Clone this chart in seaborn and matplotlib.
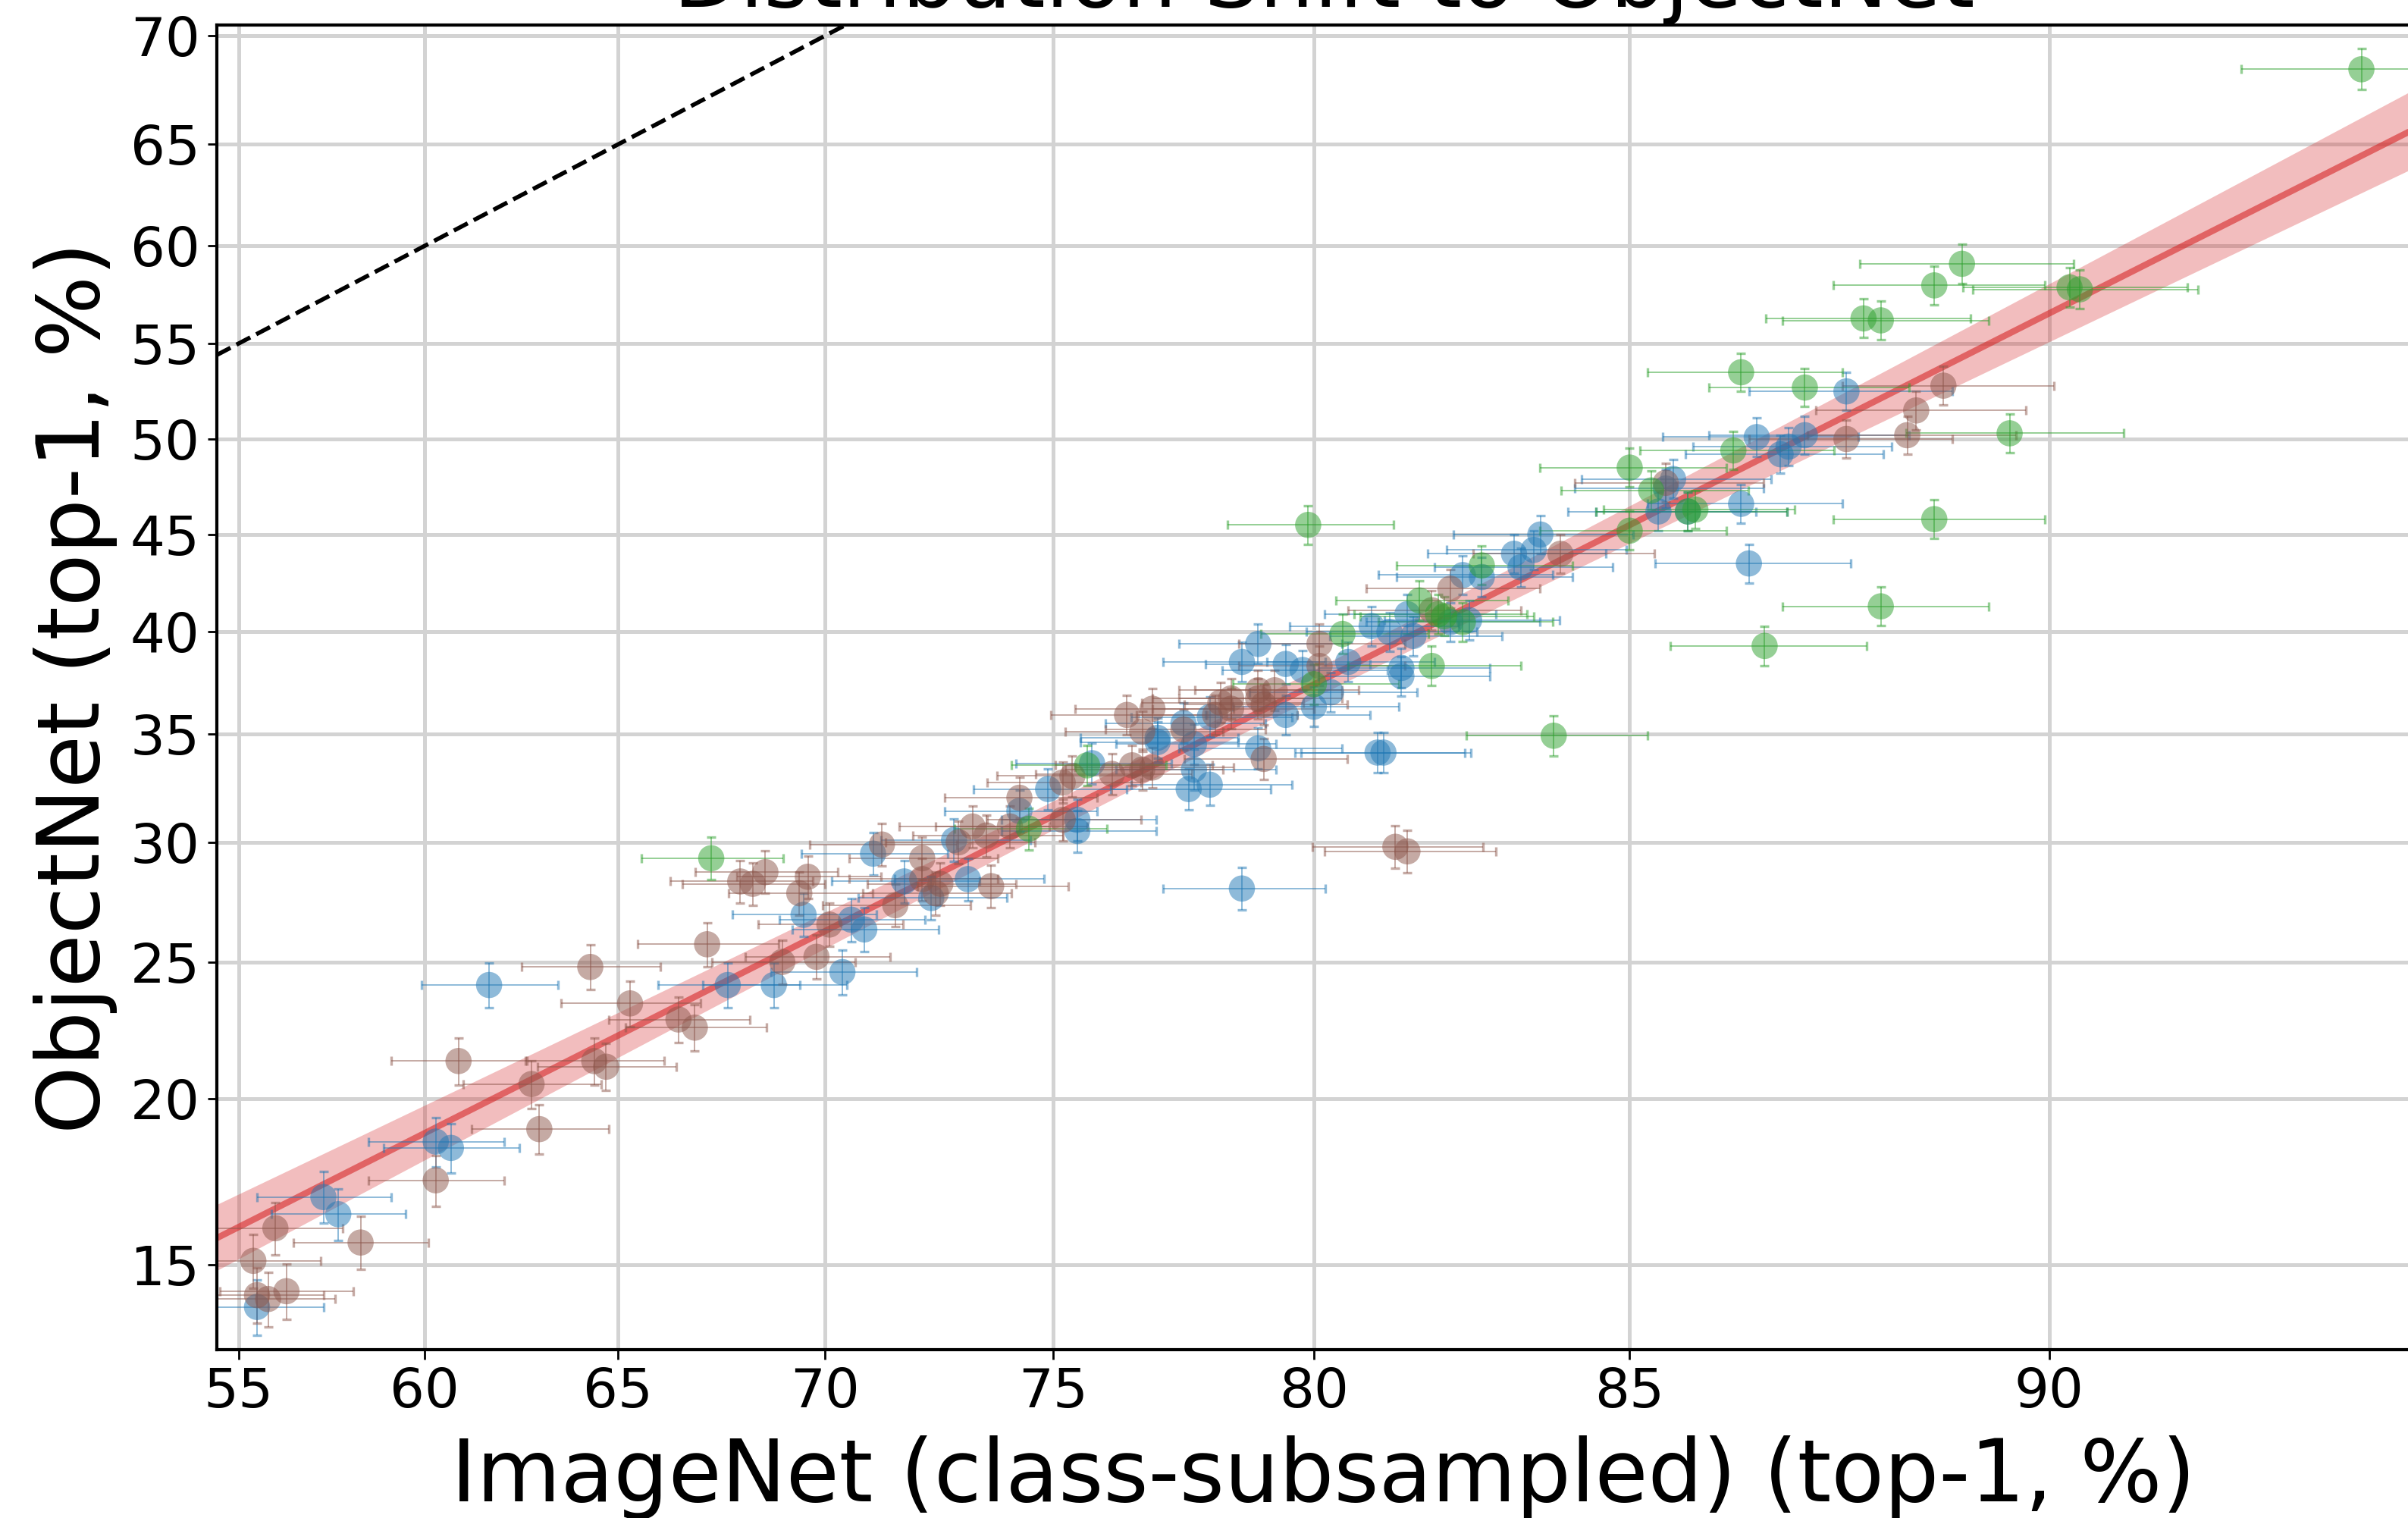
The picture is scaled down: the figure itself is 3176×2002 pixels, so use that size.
import numpy as np
import pandas as pd
import matplotlib
matplotlib.use("Agg")
import matplotlib.pyplot as plt
import seaborn as sns
from matplotlib.ticker import FixedLocator, FixedFormatter, NullLocator

# ImageNet (class-subsampled) vs ObjectNet top-1 accuracy, in percent
blue_x = [87.8, 86.7, 87.3, 87.0, 87.1, 86.5, 86.6, 85.6, 85.5, 85.4, 85.8, 83.7, 83.3, 83.6,
          83.4, 82.5, 82.8, 81.6, 81.3, 81.0, 82.3, 82.6, 81.7, 80.6, 81.5, 81.5, 80.3, 81.1,
          81.2, 79.0, 78.7, 79.5, 79.8, 80.0, 79.5, 79.0, 78.7, 77.8, 77.7, 78.1, 77.1, 77.1,
          77.6, 78.1, 77.8, 75.8, 74.9, 74.3, 75.5, 75.5, 72.9, 73.2, 71.8, 72.4, 71.1, 69.5,
          70.6, 70.9, 70.4, 67.7, 68.8, 61.7, 60.3, 60.7, 57.3, 57.7, 55.5]
blue_y = [52.5, 50.1, 50.2, 49.2, 49.6, 46.6, 43.5, 47.9, 47.4, 46.2, 46.2, 45.0, 44.0, 44.2,
          43.3, 42.9, 42.8, 40.9, 40.0, 40.3, 40.5, 40.6, 39.8, 38.5, 38.2, 37.8, 37.0, 34.1,
          34.1, 39.4, 38.5, 38.4, 38.1, 36.3, 35.9, 34.3, 28.0, 33.3, 32.4, 32.6, 34.8, 34.6,
          35.5, 35.8, 34.5, 33.6, 32.4, 31.4, 31.0, 30.5, 30.1, 28.4, 28.3, 27.6, 29.5, 26.9,
          26.7, 26.3, 24.6, 24.1, 24.1, 24.1, 18.6, 18.4, 16.9, 16.4, 13.9]

brown_x = [88.9, 88.6, 87.8, 88.5, 85.5, 84.0, 82.3, 82.0, 80.1, 80.1, 79.0, 79.3, 79.1, 79.0,
           78.5, 78.5, 78.3, 78.2, 77.6, 77.0, 76.5, 76.8, 79.1, 81.4, 81.6, 76.2, 76.6, 76.8,
           77.0, 75.2, 75.4, 75.2, 74.3, 74.1, 73.6, 73.3, 73.0, 72.6, 73.7, 71.3, 72.2, 72.2,
           72.5, 71.6, 70.1, 69.6, 69.4, 68.6, 68.0, 68.3, 67.2, 69.0, 69.8, 64.3, 65.3, 66.5,
           66.9, 60.9, 64.4, 64.7, 62.8, 63.0, 60.3, 56.0, 58.3, 55.4, 55.5, 55.8, 56.3]
brown_y = [52.8, 51.5, 50.0, 50.2, 47.7, 44.0, 42.2, 41.1, 39.4, 38.3, 37.1, 37.1, 36.4, 36.7,
           36.2, 36.7, 36.5, 35.9, 35.2, 36.2, 35.9, 35.1, 33.8, 29.8, 29.6, 33.1, 33.5, 33.3,
           33.4, 32.7, 33.0, 31.0, 32.0, 30.7, 30.3, 30.7, 30.0, 28.2, 28.1, 29.9, 29.3, 28.4,
           27.8, 27.3, 26.5, 28.5, 27.8, 28.7, 28.3, 28.2, 25.7, 25.0, 25.2, 24.8, 23.4, 22.8,
           22.5, 21.3, 21.3, 21.1, 20.5, 19.0, 17.4, 16.0, 15.6, 15.1, 14.2, 14.1, 14.3]

green_x = [92.7, 89.1, 88.8, 90.2, 90.3, 88.0, 88.2, 86.5, 87.3, 89.6, 86.4, 85.0, 85.3, 85.8,
           85.9, 85.0, 79.9, 88.8, 88.2, 86.8, 83.9, 82.8, 81.8, 82.1, 82.2, 82.5, 82.0, 80.5,
           80.0, 75.7, 74.5, 67.3]
green_y = [68.5, 59.1, 58.0, 57.9, 57.8, 56.3, 56.2, 53.5, 52.7, 50.3, 49.4, 48.5, 47.3, 46.2,
           46.3, 45.2, 45.5, 45.8, 41.3, 39.3, 34.9, 43.4, 41.6, 40.9, 40.8, 40.5, 38.3, 39.9,
           37.4, 33.5, 30.6, 29.3]

x_ticks = [55, 60, 65, 70, 75, 80, 85, 90]
y_ticks = [15, 20, 25, 30, 35, 40, 45, 50, 55, 60, 65, 70]

# test-set sizes used for the binomial confidence intervals
n_imagenet = 5650
n_objectnet = 18574
z_ci = 2.75

palette = {"blue": "#1f77b4", "brown": "#8c564b", "green": "#2ca02c"}

frames = []
for name, xs, ys in [("blue", blue_x, blue_y), ("brown", brown_x, brown_y),
                     ("green", green_x, green_y)]:
    frames.append(pd.DataFrame({"imagenet": xs, "objectnet": ys, "group": name}))
df = pd.concat(frames, ignore_index=True)


def binom_err(acc, n):
    p = np.asarray(acc) / 100.0
    return 100.0 * z_ci * np.sqrt(p * (1 - p) / n)


def logit_pct(v):
    v = np.clip(np.asarray(v, dtype=float), 1e-4, 100 - 1e-4)
    return np.log(v / (100.0 - v))


def expit_pct(t):
    return 100.0 / (1.0 + np.exp(-np.asarray(t, dtype=float)))


sns.set_style("whitegrid")
plt.rcParams.update({
    "font.family": ["DejaVu Sans"],
    "text.color": "black",
    "axes.labelcolor": "black",
    "axes.titlecolor": "black",
    "axes.edgecolor": "black",
    "axes.linewidth": 1.5,
    "grid.color": "#d3d3d3",
    "grid.linewidth": 1.8,
    "xtick.bottom": True,
    "ytick.left": True,
    "xtick.major.size": 4.5,
    "ytick.major.size": 4.5,
    "xtick.major.width": 1.0,
    "ytick.major.width": 1.0,
    "xtick.color": "black",
    "ytick.color": "black",
    "xtick.labelcolor": "black",
    "ytick.labelcolor": "black",
})

fig = plt.figure(figsize=(15.88, 10.01), dpi=200)
ax = fig.add_axes([0.0900, 0.1109, 0.9194, 0.8726])
ax.set_xscale("function", functions=(logit_pct, expit_pct))
ax.set_yscale("function", functions=(logit_pct, expit_pct))
ax.set_axisbelow(True)

# linear fit in logit space with a confidence band
lx = logit_pct(df["imagenet"].values)
ly = logit_pct(df["objectnet"].values)
slope, intercept = np.polyfit(lx, ly, 1)
resid = ly - (slope * lx + intercept)
s_res = np.sqrt(np.sum(resid ** 2) / (len(lx) - 2))
sxx = np.sum((lx - lx.mean()) ** 2)
grid_t = np.linspace(logit_pct(53.0), logit_pct(95.0), 300)
fit_t = slope * grid_t + intercept
half = 3.0 * s_res * np.sqrt(1.0 / len(lx) + (grid_t - lx.mean()) ** 2 / sxx)
ax.fill_between(expit_pct(grid_t), expit_pct(fit_t - half), expit_pct(fit_t + half),
                color="#d62728", alpha=0.3, linewidth=0, zorder=1)
ax.plot(expit_pct(grid_t), expit_pct(fit_t), color="#d62728", alpha=0.6, linewidth=3.0,
        zorder=1.5)

# y = x reference
diag = np.linspace(40, 95, 200)
ax.plot(diag, diag, color="black", linestyle="--", linewidth=2.0, zorder=2)

for name, color in palette.items():
    sub = df[df["group"] == name]
    ax.errorbar(sub["imagenet"], sub["objectnet"],
                xerr=binom_err(sub["imagenet"], n_imagenet),
                yerr=binom_err(sub["objectnet"], n_objectnet),
                fmt="none", ecolor=color, alpha=0.5, elinewidth=0.7,
                capsize=2.0, capthick=1.2, zorder=2.5)

sns.scatterplot(data=df, x="imagenet", y="objectnet", hue="group", palette=palette,
                s=155, alpha=0.5, linewidth=0, legend=False, ax=ax, zorder=3)

ax.set_xlim(54.4, 93.2)
ax.set_ylim(12.86, 70.47)
ax.xaxis.set_major_locator(FixedLocator(x_ticks))
ax.xaxis.set_major_formatter(FixedFormatter([str(t) for t in x_ticks]))
ax.yaxis.set_major_locator(FixedLocator(y_ticks))
ax.yaxis.set_major_formatter(FixedFormatter([str(t) for t in y_ticks]))
ax.xaxis.set_minor_locator(NullLocator())
ax.yaxis.set_minor_locator(NullLocator())
ax.tick_params(axis="both", labelsize=26, direction="out", colors="black")

ax.set_xlabel("ImageNet (class-subsampled) (top-1, %)", fontsize=41, labelpad=8,
              color="black")
ax.set_ylabel("ObjectNet (top-1, %)", fontsize=41, labelpad=6, color="black")
ax.set_title("Distribution Shift to ObjectNet", fontsize=41, pad=7.5, color="black")

for side in ["left", "bottom", "top", "right"]:
    ax.spines[side].set_color("black")
    ax.spines[side].set_linewidth(1.5)

fig.savefig("out.png", dpi=200)
